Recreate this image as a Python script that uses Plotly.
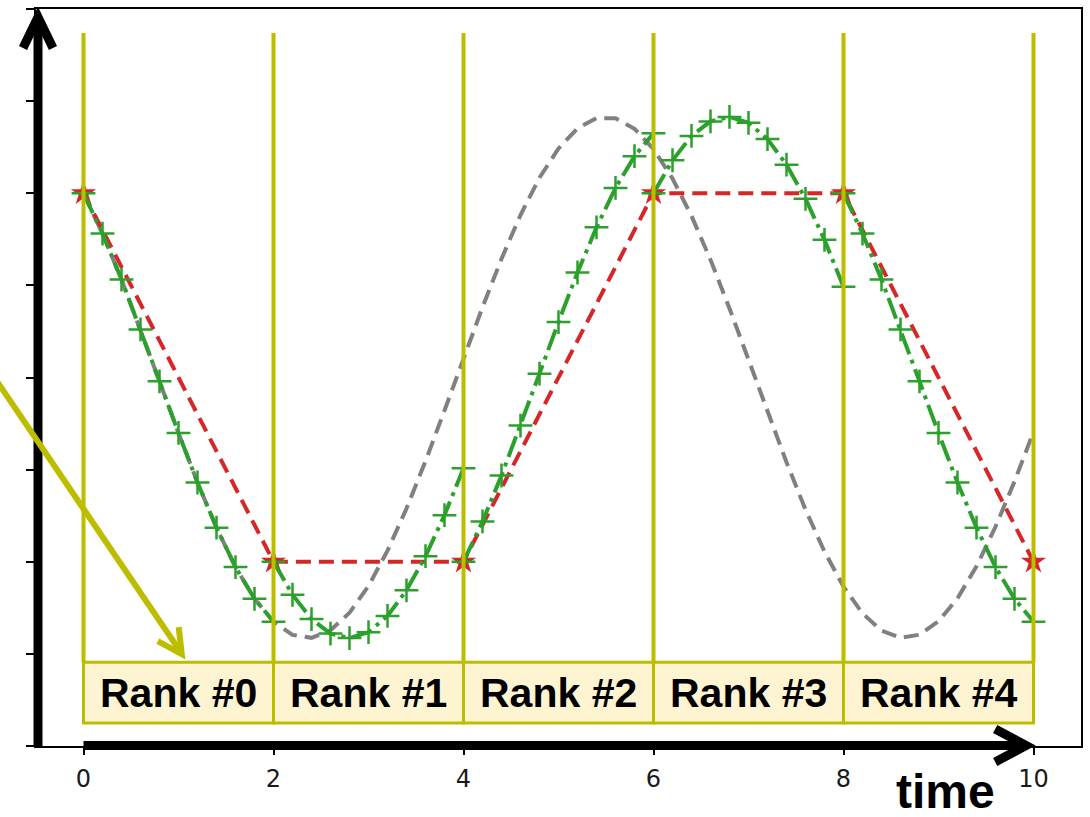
import plotly.graph_objects as go

# ---------------- data ----------------
# reference (exact) solution
ref_t = [0.0, 0.2, 0.4, 0.6, 0.8, 1.0, 1.2, 1.4, 1.6, 1.8, 2.0, 2.2, 2.4, 2.6, 2.8, 3.0,
         3.2, 3.4, 3.6, 3.8, 4.0, 4.2, 4.4, 4.6, 4.8, 5.0, 5.2, 5.4, 5.6, 5.8, 6.0, 6.2,
         6.4, 6.6, 6.8, 7.0, 7.2, 7.4, 7.6, 7.8, 8.0, 8.2, 8.4, 8.6, 8.8, 9.0, 9.2, 9.4,
         9.6, 9.8, 10.0]
ref_y = [1.000, 0.781, 0.532, 0.261, -0.021, -0.301, -0.570, -0.815, -1.029, -1.201,
         -1.325, -1.397, -1.413, -1.372, -1.277, -1.131, -0.940, -0.711, -0.454, -0.179,
         0.103, 0.381, 0.644, 0.882, 1.084, 1.243, 1.352, 1.408, 1.407, 1.350, 1.240,
         1.080, 0.877, 0.639, 0.375, 0.097, -0.185, -0.460, -0.717, -0.945, -1.135,
         -1.280, -1.374, -1.413, -1.396, -1.323, -1.198, -1.025, -0.810, -0.564, -0.295]

# coarse solution (red stars)
coarse_t = [0, 2, 4, 6, 8, 10]
coarse_y = [1.0, -1.0, -1.0, 1.0, 1.0, -1.0]

# fine solutions per rank (green crosses)
fine_t0 = [0.0, 0.2, 0.4, 0.6, 0.8, 1.0, 1.2, 1.4, 1.6, 1.8, 2.0]
fine_y0 = [1.000, 0.781, 0.532, 0.261, -0.021, -0.301, -0.570, -0.815, -1.029, -1.201, -1.325]
fine_t1 = [2.0, 2.2, 2.4, 2.6, 2.8, 3.0, 3.2, 3.4, 3.6, 3.8, 4.0]
fine_y1 = [-1.000, -1.179, -1.311, -1.390, -1.414, -1.382, -1.294, -1.155, -0.970, -0.747, -0.493]
fine_t2 = [4.0, 4.2, 4.4, 4.6, 4.8, 5.0, 5.2, 5.4, 5.6, 5.8, 6.0]
fine_y2 = [-1.000, -0.781, -0.532, -0.261, 0.021, 0.301, 0.570, 0.815, 1.029, 1.201, 1.325]
fine_t3 = [6.0, 6.2, 6.4, 6.6, 6.8, 7.0, 7.2, 7.4, 7.6, 7.8, 8.0]
fine_y3 = [1.000, 1.179, 1.311, 1.390, 1.414, 1.382, 1.294, 1.155, 0.970, 0.747, 0.493]
fine_t4 = [8.0, 8.2, 8.4, 8.6, 8.8, 9.0, 9.2, 9.4, 9.6, 9.8, 10.0]
fine_y4 = [1.000, 0.781, 0.532, 0.261, -0.021, -0.301, -0.570, -0.815, -1.029, -1.201, -1.325]

rank_bounds = [0, 2, 4, 6, 8, 10]
rank_labels = ["Rank #0", "Rank #1", "Rank #2", "Rank #3", "Rank #4"]
x_ticks = [0, 2, 4, 6, 8, 10]
y_ticks = [-2.0, -1.5, -1.0, -0.5, 0.0, 0.5, 1.0, 1.5, 2.0]

# ---------------- style / layout constants ----------------
W, H = 1090, 817
L, R, T, B = 36, 1083, 8, 746          # plot area in pixels
XR = [-0.5, 10.5]
YR = [-2.0, 2.0]
OLIVE = "#bdbd00"
BOX_FILL = "#fff4d2"
GREEN = "#2ca02c"
RED = "#d62728"
GREY = "#808080"


def px(xpix):
    return (xpix - L) / (R - L)


def py(ypix):
    return (B - ypix) / (B - T)


def dpx(xd):  # data x -> pixel
    return L + (xd - XR[0]) / (XR[1] - XR[0]) * (R - L)


fig = go.Figure()

fig.add_trace(go.Scatter(x=ref_t, y=ref_y, mode="lines",
                         line=dict(color=GREY, width=4, dash="15px,8px"),
                         showlegend=False, hoverinfo="skip"))

fig.add_trace(go.Scatter(x=coarse_t, y=coarse_y, mode="lines+markers",
                         line=dict(color=RED, width=4, dash="15px,8px"),
                         marker=dict(symbol="star", size=19, color=RED,
                                     line=dict(width=0)),
                         cliponaxis=False, showlegend=False, hoverinfo="skip"))

fine_x, fine_v = [], []
for tt, vv in [(fine_t0, fine_y0), (fine_t1, fine_y1), (fine_t2, fine_y2),
               (fine_t3, fine_y3), (fine_t4, fine_y4)]:
    fine_x += tt + [None]
    fine_v += vv + [None]

fig.add_trace(go.Scatter(x=fine_x, y=fine_v, mode="lines+markers", connectgaps=False,
                         line=dict(color=GREEN, width=4, dash="22px,6px,4px,6px"),
                         marker=dict(symbol="cross-thin", size=17,
                                     line=dict(color=GREEN, width=2.5)),
                         cliponaxis=False, showlegend=False, hoverinfo="skip"))

shapes = []
# rank boundary lines
LINE_TOP = 1.87
BOX_TOP, BOX_BOT = -1.545, -1.875
for xb in rank_bounds:
    shapes.append(dict(type="line", xref="x", yref="y", x0=xb, x1=xb,
                       y0=BOX_TOP, y1=LINE_TOP, layer="above",
                       line=dict(color=OLIVE, width=4)))
# rank boxes
annotations = []
for i, lab in enumerate(rank_labels):
    x0, x1 = rank_bounds[i], rank_bounds[i + 1]
    shapes.append(dict(type="rect", xref="x", yref="y", x0=x0, x1=x1,
                       y0=BOX_BOT, y1=BOX_TOP, layer="above",
                       fillcolor=BOX_FILL, line=dict(color=OLIVE, width=3)))
    annotations.append(dict(x=(x0 + x1) / 2, y=(BOX_TOP + BOX_BOT) / 2, xref="x", yref="y",
                            text=lab, showarrow=False,
                            font=dict(family="Liberation Sans, Arial", size=41,
                                      color="black", weight="bold")))

# thick black axis arrows (paper coordinates so they are not clipped)
ax_y = py(745.5)
x_start = px(dpx(0))
shapes.append(dict(type="line", xref="paper", yref="paper", x0=x_start, x1=px(1026),
                   y0=ax_y, y1=ax_y, line=dict(color="black", width=9), layer="above"))
shapes.append(dict(type="path", xref="paper", yref="paper", layer="above",
                   path=f"M {px(997)},{py(729)} L {px(1028)},{py(745.5)} L {px(997)},{py(762)}",
                   line=dict(color="black", width=9)))
shapes.append(dict(type="line", xref="paper", yref="paper", x0=px(38), x1=px(38),
                   y0=py(746), y1=py(20), line=dict(color="black", width=9), layer="above"))
shapes.append(dict(type="path", xref="paper", yref="paper", layer="above",
                   path=f"M {px(23)},{py(47)} L {px(38)},{py(16)} L {px(53)},{py(47)}",
                   line=dict(color="black", width=9)))

# olive pointer arrow
shapes.append(dict(type="line", xref="paper", yref="paper", x0=px(-5), y0=py(378),
                   x1=px(181), y1=py(652), line=dict(color=OLIVE, width=6), layer="above"))
shapes.append(dict(type="path", xref="paper", yref="paper", layer="above",
                   path=f"M {px(158)},{py(641)} L {px(182)},{py(654)} L {px(179)},{py(627)}",
                   line=dict(color=OLIVE, width=6)))

annotations.append(dict(x=px(947), y=py(792), xref="paper", yref="paper", text="time",
                        showarrow=False, xanchor="center", yanchor="middle",
                        font=dict(family="Liberation Sans, Arial", size=48,
                                  color="black", weight="bold")))

fig.update_layout(
    width=W, height=H,
    margin=dict(l=L, r=W - R, t=T, b=H - B, pad=0),
    paper_bgcolor="white", plot_bgcolor="white",
    shapes=shapes, annotations=annotations,
    xaxis=dict(range=XR, tickmode="array", tickvals=x_ticks,
               ticktext=[str(v) for v in x_ticks],
               showgrid=False, zeroline=False, showline=True, mirror=True,
               linecolor="black", linewidth=1.5, ticks="outside", ticklen=7,
               tickwidth=1.5, tickcolor="black", ticklabelstandoff=3,
               tickfont=dict(family="DejaVu Sans", size=24, color="#1a1a1a")),
    yaxis=dict(range=YR, tickmode="array", tickvals=y_ticks, showticklabels=False,
               showgrid=False, zeroline=False, showline=True, mirror=True,
               linecolor="black", linewidth=1.5, ticks="outside", ticklen=8,
               tickwidth=1.5, tickcolor="black"),
)

fig.write_html("out.html")
